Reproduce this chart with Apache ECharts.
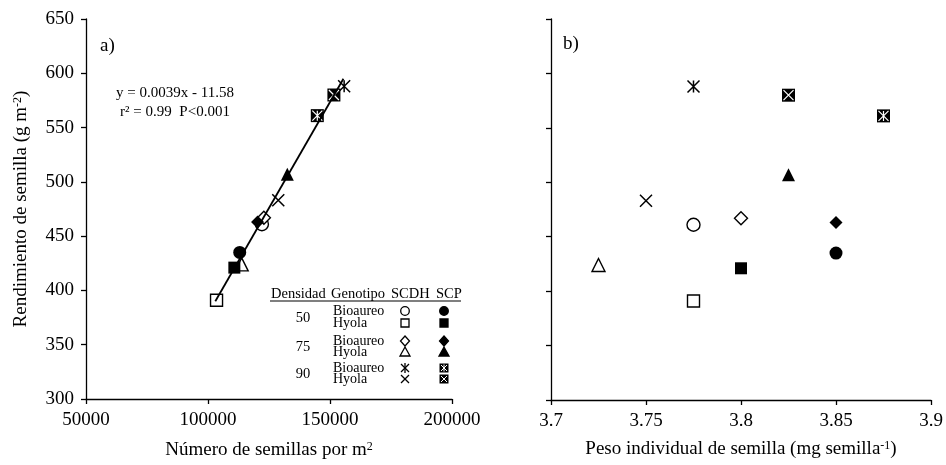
<!DOCTYPE html>
<html>
<head>
<meta charset="utf-8">
<script src="https://cdn.jsdelivr.net/npm/echarts@6/dist/echarts.min.js"></script>
<style>
  html, body { margin: 0; padding: 0; background: #fff; }
  #chart { width: 946px; height: 465px; }
</style>
</head>
<body>
<div id="chart"></div>
<script>
// treatments: SCDH = open markers, SCP = filled markers
const groupNames = [
    'Bioaureo 50 SCDH', 'Hyola 50 SCDH', 'Bioaureo 75 SCDH', 'Hyola 75 SCDH', 'Bioaureo 90 SCDH', 'Hyola 90 SCDH',
    'Bioaureo 50 SCP', 'Hyola 50 SCP', 'Bioaureo 75 SCP', 'Hyola 75 SCP', 'Bioaureo 90 SCP', 'Hyola 90 SCP'
]
const seedsPerM2 = [122100, 103500, 122900, 113800, 155800, 128800, 113000, 110800, 120300, 132500, 144800, 151600]
const seedYield = [461, 391, 467, 424, 588, 483, 435, 421, 463, 507, 561, 580]
const seedWeight = [3.775, 3.775, 3.8, 3.725, 3.775, 3.75, 3.85, 3.8, 3.85, 3.825, 3.875, 3.825]

// regression line end points (panel a)
const fitX = [103000, 155500]
const fitY = [390, 595]

const densities = ['50', '75', '90']
const genotypes = ['Bioaureo', 'Hyola']

const FONT = '"Liberation Serif", "Times New Roman", serif'

// marker kind per group, same order as groupNames
const markerKinds = ['circle', 'rect', 'diamond', 'triangle', 'asterisk', 'cross',
    'circle', 'rect', 'diamond', 'triangle', 'boxAsterisk', 'boxCross']
const markerFilled = [false, false, false, false, false, false, true, true, true, true, true, true]

const PATH_CROSS = 'path://M0,0L10,10M0,10L10,0'
const PATH_ASTERISK = 'path://M0,0L10,10M0,10L10,0M5,0L5,10'

function markerSeries(i, xIndex, data) {
    const kind = markerKinds[i]
    const filled = markerFilled[i]
    const base = {
        type: 'scatter',
        name: groupNames[i],
        xAxisIndex: xIndex,
        yAxisIndex: xIndex,
        data: data,
        z: 3,
        silent: true
    }
    if (kind === 'asterisk' || kind === 'cross') {
        return [Object.assign({}, base, {
            symbol: kind === 'cross' ? PATH_CROSS : PATH_ASTERISK,
            symbolSize: 12,
            itemStyle: { color: 'transparent', borderColor: '#000', borderWidth: 1.5, opacity: 1 }
        })]
    }
    if (kind === 'boxAsterisk' || kind === 'boxCross') {
        return [
            Object.assign({}, base, {
                symbol: 'rect', symbolSize: 13,
                itemStyle: { color: '#000', opacity: 1 }
            }),
            Object.assign({}, base, {
                name: groupNames[i] + ' overlay',
                symbol: kind === 'boxCross' ? PATH_CROSS : PATH_ASTERISK,
                symbolSize: 10,
                z: 4,
                itemStyle: { color: 'transparent', borderColor: '#fff', borderWidth: 1.2, opacity: 1 }
            })
        ]
    }
    const sizes = { circle: 13, rect: 12, diamond: 13, triangle: 13 }
    return [Object.assign({}, base, {
        symbol: kind,
        symbolSize: sizes[kind],
        itemStyle: filled
            ? { color: '#000', opacity: 1 }
            : { color: '#fff', borderColor: '#000', borderWidth: 1.4, opacity: 1 }
    })]
}

function legendSymbol(kind, filled, x, y) {
    const st = { fill: filled ? '#000' : '#fff', stroke: '#000', lineWidth: 1.3 }
    const ln = (x1, y1, x2, y2, c, w) => ({
        type: 'line', shape: { x1: x1, y1: y1, x2: x2, y2: y2 },
        style: { stroke: c, lineWidth: w }, z: 20
    })
    switch (kind) {
        case 'circle':
            return [{ type: 'circle', shape: { cx: x, cy: y, r: 4.3 }, style: st, z: 20 }]
        case 'rect':
            return [{ type: 'rect', shape: { x: x - 4, y: y - 4, width: 8, height: 8 }, style: st, z: 20 }]
        case 'diamond':
            return [{ type: 'polygon', shape: { points: [[x, y - 5], [x + 4.5, y], [x, y + 5], [x - 4.5, y]] }, style: st, z: 20 }]
        case 'triangle':
            return [{ type: 'polygon', shape: { points: [[x, y - 5], [x + 5, y + 4], [x - 5, y + 4]] }, style: st, z: 20 }]
        case 'cross':
            return [ln(x - 4, y - 4, x + 4, y + 4, '#000', 1.3), ln(x - 4, y + 4, x + 4, y - 4, '#000', 1.3)]
        case 'asterisk':
            return [ln(x - 4, y - 4, x + 4, y + 4, '#000', 1.3), ln(x - 4, y + 4, x + 4, y - 4, '#000', 1.3),
                ln(x, y - 5, x, y + 5, '#000', 1.3)]
        case 'boxCross':
        case 'boxAsterisk': {
            const els = [{ type: 'rect', shape: { x: x - 4.5, y: y - 4.5, width: 9, height: 9 }, style: { fill: '#000' }, z: 20 },
                ln(x - 3, y - 3, x + 3, y + 3, '#fff', 1), ln(x - 3, y + 3, x + 3, y - 3, '#fff', 1)]
            if (kind === 'boxAsterisk') els.push(ln(x, y - 3.5, x, y + 3.5, '#fff', 1))
            return els
        }
    }
    return []
}

function txt(text, x, y, size, align) {
    return {
        type: 'text', x: x, y: y, z: 20,
        style: {
            text: text, fill: '#000', font: size + 'px ' + FONT,
            align: align || 'left', verticalAlign: 'middle',
            textAlign: align || 'left', textVerticalAlign: 'middle'
        }
    }
}

// legend table inside panel a
const legendRowsY = [311, 323, 341, 352, 368, 379]
const legendGraphics = [
    txt('Densidad', 271, 294, 14.5), txt('Genotipo', 331, 294, 14.5),
    txt('SCDH', 391, 294, 14.5), txt('SCP', 436, 294, 14.5),
    { type: 'line', shape: { x1: 270, y1: 301, x2: 461, y2: 301 }, style: { stroke: '#000', lineWidth: 1.2 }, z: 20 }
]
densities.forEach((d, k) => {
    legendGraphics.push(txt(d, 303, (legendRowsY[2 * k] + legendRowsY[2 * k + 1]) / 2 + 1, 14.5, 'center'))
    genotypes.forEach((g, j) => {
        const row = 2 * k + j
        legendGraphics.push(txt(g, 333, legendRowsY[row], 14))
        legendGraphics.push(...legendSymbol(markerKinds[row], false, 405, legendRowsY[row]))
        legendGraphics.push(...legendSymbol(markerKinds[row + 6], true, 444, legendRowsY[row]))
    })
})

const axisCommon = {
    axisLine: { lineStyle: { color: '#000', width: 1.3 } },
    axisTick: { show: true, length: 5, lineStyle: { color: '#000', width: 1.3 } },
    splitLine: { show: false },
    axisLabel: { color: '#000', fontFamily: FONT, fontSize: 19 }
}
const nameStyle = {
    color: '#000', fontFamily: FONT, fontSize: 19,
    rich: { sup: { fontSize: 12, fontFamily: FONT, color: '#000', verticalAlign: 'top' } }
}

const series = []
groupNames.forEach((g, i) => {
    series.push(...markerSeries(i, 0, [[seedsPerM2[i], seedYield[i]]]))
    series.push(...markerSeries(i, 1, [[seedWeight[i], seedYield[i]]]))
})
series.push({
    type: 'line', name: 'ajuste', xAxisIndex: 0, yAxisIndex: 0,
    data: fitX.map((x, i) => [x, fitY[i]]),
    symbol: 'none', z: 5, silent: true,
    lineStyle: { color: '#000', width: 1.8 }
})

const chart = echarts.init(document.getElementById('chart'))
chart.setOption({
    animation: false,
    backgroundColor: '#fff',
    grid: [
        { left: 86, top: 19, width: 366, height: 381 },
        { left: 551, top: 19, width: 380, height: 381 }
    ],
    xAxis: [
        Object.assign({}, axisCommon, {
            type: 'value', gridIndex: 0, min: 50000, max: 200000, interval: 50000,
            name: 'Número de semillas por m{sup|2}', nameLocation: 'middle', nameGap: 42,
            nameTextStyle: nameStyle,
            axisLabel: Object.assign({}, axisCommon.axisLabel, { margin: 12, formatter: v => String(v) })
        }),
        Object.assign({}, axisCommon, {
            type: 'value', gridIndex: 1, min: 3.7, max: 3.9, interval: 0.05,
            name: 'Peso individual de semilla (mg semilla{sup|-1})', nameLocation: 'middle', nameGap: 40,
            nameTextStyle: nameStyle,
            axisLabel: Object.assign({}, axisCommon.axisLabel, {
                margin: 12, formatter: v => String(+v.toFixed(2))
            })
        })
    ],
    yAxis: [
        Object.assign({}, axisCommon, {
            type: 'value', gridIndex: 0, min: 300, max: 650, interval: 50,
            name: 'Rendimiento de semilla (g m{sup|-2})', nameLocation: 'middle', nameGap: 55,
            nameTextStyle: nameStyle,
            axisLabel: Object.assign({}, axisCommon.axisLabel, { margin: 12 })
        }),
        Object.assign({}, axisCommon, {
            type: 'value', gridIndex: 1, min: 300, max: 650, interval: 50,
            axisLabel: { show: false }
        })
    ],
    graphic: [
        txt('a)', 100, 46, 19),
        txt('b)', 563, 44, 19),
        txt('y = 0.0039x - 11.58', 175, 93, 15, 'center'),
        txt('r² = 0.99  P<0.001', 175, 112, 15, 'center')
    ].concat(legendGraphics),
    series: series
})
</script>
</body>
</html>
